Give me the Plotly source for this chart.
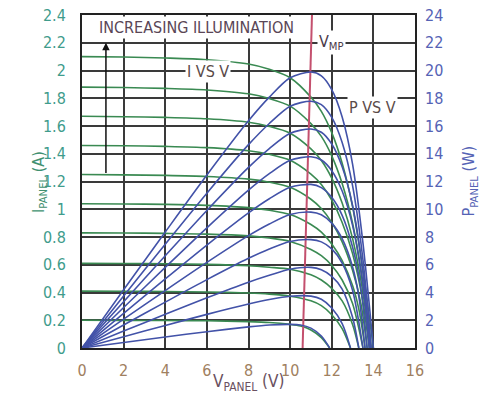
import plotly.graph_objects as go

# ---------------- data ----------------
v_c1 = [0, 2, 4, 6, 8, 9, 10, 10.5, 11, 11.5, 11.9]
i_c1 = [0.200, 0.199, 0.198, 0.196, 0.190, 0.184, 0.170, 0.158, 0.130, 0.075, 0]
p_c1 = [0, 0.398, 0.792, 1.176, 1.52, 1.656, 1.70, 1.659, 1.43, 0.86, 0]

v_c2 = [0, 2, 4, 6, 8, 9, 10, 11, 11.5, 12, 12.5, 12.9]
i_c2 = [0.410, 0.409, 0.407, 0.404, 0.396, 0.388, 0.373, 0.340, 0.305, 0.240, 0.140, 0]
p_c2 = [0, 0.818, 1.628, 2.424, 3.168, 3.492, 3.73, 3.74, 3.51, 2.88, 1.75, 0]

v_c3 = [0, 2, 4, 6, 8, 9, 10, 11, 11.5, 12, 12.5, 13, 13.3]
i_c3 = [0.610, 0.609, 0.607, 0.603, 0.593, 0.582, 0.568, 0.528, 0.490, 0.430, 0.340, 0.170, 0]
p_c3 = [0, 1.218, 2.428, 3.618, 4.744, 5.238, 5.68, 5.81, 5.635, 5.16, 4.25, 2.21, 0]

v_c4 = [0, 2, 4, 6, 8, 9, 10, 11, 11.5, 12, 12.5, 13, 13.5]
i_c4 = [0.830, 0.829, 0.826, 0.821, 0.808, 0.793, 0.768, 0.710, 0.665, 0.595, 0.490, 0.320, 0]
p_c4 = [0, 1.658, 3.304, 4.926, 6.464, 7.137, 7.68, 7.81, 7.648, 7.14, 6.125, 4.16, 0]

v_c5 = [0, 2, 4, 6, 8, 9, 10, 11, 11.5, 12, 12.5, 13, 13.3, 13.6]
i_c5 = [1.040, 1.038, 1.035, 1.028, 1.012, 0.993, 0.962, 0.890, 0.835, 0.750, 0.630, 0.450, 0.280, 0]
p_c5 = [0, 2.076, 4.14, 6.168, 8.096, 8.937, 9.62, 9.79, 9.603, 9.0, 7.875, 5.85, 3.724, 0]

v_c6 = [0, 2, 4, 6, 8, 9, 10, 11, 11.5, 12, 12.5, 13, 13.4, 13.7]
i_c6 = [1.250, 1.248, 1.244, 1.236, 1.217, 1.195, 1.158, 1.072, 1.005, 0.905, 0.765, 0.560, 0.320, 0]
p_c6 = [0, 2.496, 4.976, 7.416, 9.736, 10.755, 11.58, 11.792, 11.558, 10.86, 9.563, 7.28, 4.288, 0]

v_c7 = [0, 2, 4, 6, 8, 9, 10, 11, 11.5, 12, 12.5, 13, 13.5, 13.8]
i_c7 = [1.460, 1.458, 1.453, 1.444, 1.422, 1.396, 1.353, 1.253, 1.178, 1.065, 0.905, 0.680, 0.330, 0]
p_c7 = [0, 2.916, 5.812, 8.664, 11.376, 12.564, 13.53, 13.783, 13.547, 12.78, 11.313, 8.84, 4.455, 0]

v_c8 = [0, 2, 4, 6, 8, 9, 10, 11, 11.5, 12, 12.5, 13, 13.5, 13.85]
i_c8 = [1.670, 1.667, 1.662, 1.652, 1.627, 1.597, 1.548, 1.435, 1.352, 1.225, 1.045, 0.790, 0.400, 0]
p_c8 = [0, 3.334, 6.648, 9.912, 13.016, 14.373, 15.48, 15.785, 15.548, 14.7, 13.063, 10.27, 5.4, 0]

v_c9 = [0, 2, 4, 6, 8, 9, 10, 11, 11.5, 12, 12.5, 13, 13.5, 13.9]
i_c9 = [1.880, 1.877, 1.871, 1.860, 1.832, 1.798, 1.743, 1.617, 1.525, 1.385, 1.185, 0.900, 0.470, 0]
p_c9 = [0, 3.754, 7.484, 11.16, 14.656, 16.182, 17.43, 17.787, 17.538, 16.62, 14.813, 11.7, 6.345, 0]

v_c10 = [0, 2, 4, 6, 8, 9, 10, 11, 11.5, 12, 12.5, 13, 13.5, 14.0]
i_c10 = [2.100, 2.097, 2.090, 2.078, 2.047, 2.009, 1.948, 1.808, 1.706, 1.552, 1.332, 1.020, 0.560, 0]
p_c10 = [0, 4.194, 8.36, 12.468, 16.376, 18.081, 19.48, 19.888, 19.619, 18.624, 16.65, 13.26, 7.56, 0]

vmp_line_v = [10.6, 11.05]
vmp_line_i = [0, 2.4]

x_ticks = [0, 2, 4, 6, 8, 10, 12, 14, 16]
i_ticks = [0, 0.2, 0.4, 0.6, 0.8, 1, 1.2, 1.4, 1.6, 1.8, 2, 2.2, 2.4]
i_tick_text = ["0", "0.2", "0.4", "0.6", "0.8", "1", "1.2", "1.4", "1.6", "1.8", "2", "2.2", "2.4"]
p_ticks = [0, 2, 4, 6, 8, 10, 12, 14, 16, 18, 20, 22, 24]

curves = [
    (v_c1, i_c1, p_c1), (v_c2, i_c2, p_c2), (v_c3, i_c3, p_c3), (v_c4, i_c4, p_c4),
    (v_c5, i_c5, p_c5), (v_c6, i_c6, p_c6), (v_c7, i_c7, p_c7), (v_c8, i_c8, p_c8),
    (v_c9, i_c9, p_c9), (v_c10, i_c10, p_c10),
]

GREEN = "#3a8a52"
BLUE = "#4252a8"
RED = "#c4506e"
FONT = "DejaVu Sans Condensed, Liberation Sans, sans-serif"

fig = go.Figure()
for v, i, p in curves:
    fig.add_trace(go.Scatter(x=v, y=i, mode="lines", yaxis="y",
                             line=dict(color=GREEN, width=1.6, shape="spline", smoothing=0.8),
                             hoverinfo="skip", showlegend=False))
for v, i, p in curves:
    fig.add_trace(go.Scatter(x=v, y=p, mode="lines", yaxis="y2",
                             line=dict(color=BLUE, width=1.6, shape="spline", smoothing=0.8),
                             hoverinfo="skip", showlegend=False))

fig.add_trace(go.Scatter(x=vmp_line_v, y=vmp_line_i, mode="lines", yaxis="y",
                         line=dict(color=RED, width=2), hoverinfo="skip", showlegend=False))

fig.update_layout(
    width=487, height=402,
    margin=dict(l=82, r=72, t=15, b=54, autoexpand=False),
    paper_bgcolor="white", plot_bgcolor="white",
    font=dict(family=FONT, size=15),
    xaxis=dict(range=[0, 16], tickvals=x_ticks, showgrid=True, gridcolor="#3a3a3a", gridwidth=1.5,
               zeroline=False, showline=True, linecolor="#222", linewidth=2, mirror=True,
               automargin=False,
               ticks="", ticklabelstandoff=7, tickfont=dict(color="#a08060", size=16, family=FONT)),
    yaxis=dict(range=[0, 2.4], tickvals=i_ticks, ticktext=i_tick_text, showgrid=True,
               gridcolor="#3a3a3a", gridwidth=1.5, zeroline=False, showline=True, linecolor="#222",
               linewidth=2, mirror=True, ticks="", ticklabelstandoff=11, automargin=False,
               tickfont=dict(color="#3f9c8c", size=16, family=FONT)),
    yaxis2=dict(range=[0, 24], tickvals=p_ticks, overlaying="y", side="right", showgrid=False,
                zeroline=False, showline=False, ticks="", ticklabelstandoff=9, automargin=False,
                tickfont=dict(color="#5563b5", size=16, family=FONT)),
    annotations=[
        dict(x=5.5, y=2.31, xref="x", yref="y", text="INCREASING ILLUMINATION", showarrow=False,
             font=dict(size=16, color="#5a4656", family=FONT), bgcolor="white", borderpad=1),
        dict(x=1.15, y=2.2, ax=1.15, ay=1.25, xref="x", yref="y", axref="x", ayref="y", text="",
             showarrow=True, arrowhead=2, arrowsize=1, arrowwidth=1.5, arrowcolor="#111"),
        dict(x=6.05, y=1.99, xref="x", yref="y", text="I VS V", showarrow=False,
             font=dict(size=16, color="#5a4a48", family=FONT), bgcolor="white", borderpad=1),
        dict(x=13.95, y=1.73, xref="x", yref="y", text="P VS V", showarrow=False,
             font=dict(size=16, color="#5a4a48", family=FONT), bgcolor="white", borderpad=1),
        dict(x=12.0, y=2.2, xref="x", yref="y", text="V<sub>MP</sub>", showarrow=False,
             font=dict(size=16, color="#4a3a48", family=FONT), bgcolor="white", borderpad=1),
        dict(x=0.5, y=-0.105, xref="paper", yref="paper", text="V<sub>PANEL</sub> (V)", showarrow=False,
             xanchor="center", yanchor="middle", font=dict(size=17, color="#6a5060", family=FONT)),
        dict(x=-0.128, y=0.5, xref="paper", yref="paper", text="I<sub>PANEL</sub> (A)", showarrow=False,
             xanchor="center", yanchor="middle",
             textangle=-90, font=dict(size=16, color="#3f9070", family=FONT)),
        dict(x=1.165, y=0.5, xref="paper", yref="paper", text="P<sub>PANEL</sub> (W)", showarrow=False,
             xanchor="center", yanchor="middle",
             textangle=-90, font=dict(size=16, color="#5563b5", family=FONT)),
    ],
)

fig.write_html("out.html", config={"displayModeBar": False},
               post_script="document.body.style.margin='0';")
